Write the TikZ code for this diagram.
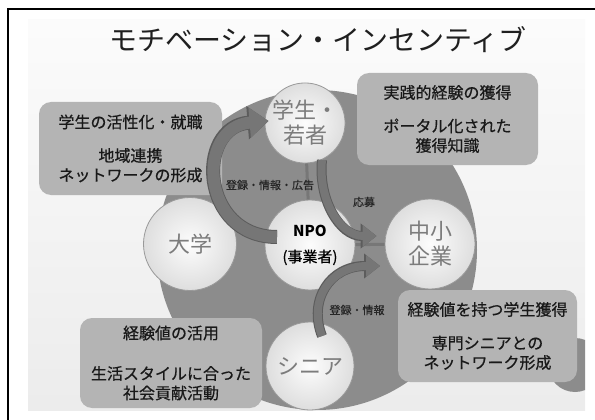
\documentclass[tikz,border=0pt]{standalone}
\usepackage{fontspec}
\setmainfont{Noto Sans CJK JP}
\newfontfamily\heavyjp[FakeBold=0.6]{Noto Sans CJK JP}
\usetikzlibrary{arrows.meta,calc}
\definecolor{bigc}{HTML}{8C8C8C}
\definecolor{boxc}{HTML}{B4B4B4}
\definecolor{arrc}{HTML}{767676}
\definecolor{arre}{HTML}{5C5C5C}
\definecolor{ctext}{HTML}{7C7C7C}
\definecolor{linec}{HTML}{777777}
\pgfdeclarelayer{bglayer}
\pgfdeclarelayer{linelayer}
\pgfsetlayers{bglayer,linelayer,main}
\tikzset{
  hub/.style={circle, inner sep=0pt, shading=radial, inner color=gray!2, outer color=gray!26,
    draw=gray!80, line width=0.8pt, text=ctext, align=center,
    font=\fontsize{22}{25}\selectfont},
  infobox/.style={rectangle, rounded corners=12pt, fill=boxc, inner sep=0pt, align=center,
    text=black!90, font=\heavyjp\fontsize{16}{19.5}\selectfont},
  smalllabel/.style={inner sep=0pt, text=black!85, font=\heavyjp\fontsize{11}{13}\selectfont},
  conn/.style={linec, line width=3pt},
  bigarrow/.style={arrc, line width=12pt, -{Triangle[width=29pt,length=19pt]},
    preaction={draw=arre, line width=14pt, -{Triangle[width=32pt,length=21pt]}}},
  midarrow/.style={arrc, line width=8pt, -{Triangle[width=21pt,length=14pt]},
    preaction={draw=arre, line width=10pt, -{Triangle[width=24pt,length=16pt]}}}
}
\begin{document}
\begin{tikzpicture}[x=1pt,y=-1pt]
\useasboundingbox (0,0) rectangle (595,420);
\begin{pgfonlayer}{bglayer}
  \shade[top color=gray!3, bottom color=gray!15] (28,20) rectangle (585,410);
  \begin{scope}
    \clip (28,20) rectangle (585,410);
    \fill[bigc] (317,250) circle[radius=160];
    \fill[bigc] (575,365) circle[radius=27];
  \end{scope}
\end{pgfonlayer}
\draw[line width=1.5pt] (8,420) -- (8,9) -- (595,9);

\node[font=\fontsize{28}{32}\selectfont, text=black!88] (title) at (318,40) {モチベーション・インセンティブ};

% boxes
\node[infobox, minimum width=183pt, minimum height=93pt] (tl) at (130.5,148.5)
  {学生の活性化・就職\\[14pt]地域連携\\ネットワークの形成};
\node[infobox, minimum width=181pt, minimum height=92pt] (tr) at (447.5,119)
  {実践的経験の獲得\\[14pt]ポータル化された\\獲得知識};
\node[infobox, minimum width=182pt, minimum height=90pt] (bl) at (171,363)
  {経験値の活用\\[21pt]生活スタイルに合った\\社会貢献活動};
\node[infobox, minimum width=179pt, minimum height=92pt] (br) at (487.5,336)
  {経験値を持つ学生獲得\\[14pt]専門シニアとの\\ネットワーク形成};

% circles
\node[hub, minimum size=80pt] (gakusei) at (305,123) {学生・\\若者};
\node[hub, minimum size=93pt] (daigaku) at (190,244) {大学};
\node[hub, minimum size=90pt, text=black, font=\fontsize{15}{26}\selectfont] (npo) at (310,245)
  {{\bfseries NPO}\\{\heavyjp (事業者)}};
\node[hub, minimum size=90pt] (chusho) at (430,244) {中小\\企業};
\node[hub, minimum size=88pt] (senior) at (310,366) {シニア};

% connectors behind circles
\begin{pgfonlayer}{linelayer}
  \draw[conn] (npo.center) -- (gakusei.center);
  \draw[conn] (npo.center) -- (chusho.center);
\end{pgfonlayer}

% labels
\node[smalllabel] (l1) at (270,185) {登録・情報・広告};
\node[smalllabel] (l2) at (364,202) {応募};
\node[smalllabel] (l3) at (357,310) {登録・情報};

% arrows
\draw[bigarrow] ($(npo.center)+(-33,-8)$) .. controls (200,237) and (195,127) .. ($(gakusei.west)+(4,-2)$);
\draw[midarrow] ($(gakusei.center)+(17,37)$) .. controls (318,200) and (340,236) .. ($(chusho.west)+(-8,-8)$);
\draw[midarrow] ($(senior.center)+(12,-30)$) .. controls (308,300) and (330,266) .. ($(chusho.center)+(-50,22)$);
\end{tikzpicture}
\end{document}
